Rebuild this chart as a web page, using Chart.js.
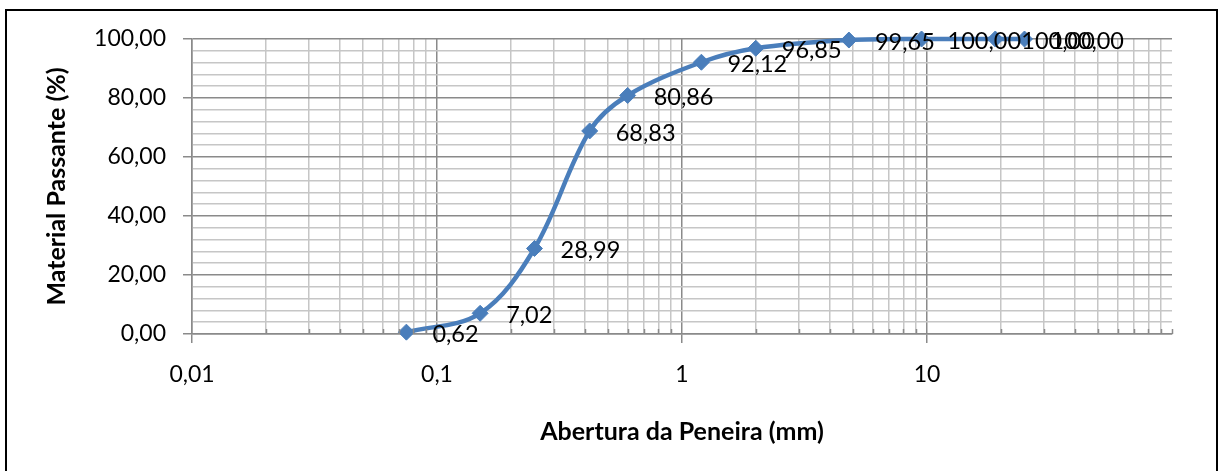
<!DOCTYPE html>
<html>
<head>
<meta charset="utf-8">
<script src="https://cdn.jsdelivr.net/npm/chart.js@4"></script>
<style>
  html, body { margin: 0; padding: 0; background: #fff; overflow: hidden; }
  #frame { position: absolute; left: 5px; top: 9px; width: 1213px; height: 520px; box-sizing: border-box; border: 2px solid #000; }
  #c { position: absolute; left: 0; top: 0; }
</style>
</head>
<body>
<div id="frame"></div>
<canvas id="c" width="1222" height="471"></canvas>
<script>
// ---- Data ----
const sieveOpenings = [0.075, 0.15, 0.25, 0.42, 0.6, 1.2, 2.0, 4.8, 9.5, 19, 25];
const percentPassing = [0.62, 7.02, 28.99, 68.83, 80.86, 92.12, 96.85, 99.65, 100.00, 100.00, 100.00];
const xDecades = [0.01, 0.1, 1, 10, 100];
const xDecadeLabels = ['0,01', '0,1', '1', '10', ''];
const yMajorTicks = [0, 20, 40, 60, 80, 100];
const yMinorStep = 4;

const fmt = v => v.toFixed(2).replace('.', ',');

// build tick lists from the named arrays
const xTickValues = [];
for (let i = 0; i < xDecades.length - 1; i++) {
  for (let k = 1; k <= 9; k++) xTickValues.push(+(xDecades[i] * k).toPrecision(6));
}
xTickValues.push(xDecades[xDecades.length - 1]);
const yTickValues = [];
for (let v = 0; v <= 100; v += yMinorStep) yTickValues.push(v);

const isDecade = v => xDecades.some(d => Math.abs(v - d) / d < 1e-6);
const MAJOR = '#8A8A8A', MINOR = '#C6C6C6', BLUE = '#4A7EBB';

const dataLabels = {
  id: 'dataLabels',
  afterDatasetsDraw(chart) {
    const ctx = chart.ctx;
    const meta = chart.getDatasetMeta(0);
    ctx.save();
    ctx.font = '23.5px Lato';
    ctx.fillStyle = '#000';
    ctx.textAlign = 'left';
    ctx.textBaseline = 'middle';
    meta.data.forEach((pt, i) => {
      ctx.fillText(fmt(percentPassing[i]), pt.x + 26, pt.y + 2);
    });
    ctx.restore();
  }
};

const innerTicks = {
  id: 'innerTicks',
  afterDraw(chart) {
    const xs = chart.scales.x;
    const ctx = chart.ctx;
    const bottom = chart.chartArea.bottom;
    ctx.save();
    ctx.strokeStyle = MAJOR;
    ctx.lineWidth = 1.5;
    xs.ticks.forEach(t => {
      if (isDecade(t.value) && t.value !== 100) return;
      const px = Math.round(xs.getPixelForValue(t.value)) + 0.5;
      ctx.beginPath();
      ctx.moveTo(px, bottom - 5);
      ctx.lineTo(px, bottom);
      ctx.stroke();
    });
    ctx.restore();
  }
};

new Chart(document.getElementById('c'), {
  type: 'line',
  data: {
    datasets: [{
      data: sieveOpenings.map((x, i) => ({ x, y: percentPassing[i] })),
      borderColor: BLUE,
      backgroundColor: BLUE,
      borderWidth: 4.5,
      tension: 0.35,
      pointStyle: 'rectRot',
      pointRadius: 8,
      pointBorderWidth: 1,
      pointBorderColor: BLUE,
      pointBackgroundColor: BLUE,
      clip: false
    }]
  },
  options: {
    responsive: false,
    animation: false,
    devicePixelRatio: 1,
    layout: { padding: { top: 39, right: 50, left: 0, bottom: 0 } },
    plugins: { legend: { display: false }, tooltip: { enabled: false } },
    scales: {
      x: {
        type: 'logarithmic',
        min: 0.01,
        max: 100,
        afterBuildTicks: s => { s.ticks = xTickValues.map(v => ({ value: v })); },
        afterFit: s => { s.height = 137; },
        border: { color: MAJOR, width: 1.5 },
        grid: {
          color: c => (c.tick && c.tick.value === 100) ? 'rgba(0,0,0,0)' : (c.tick && isDecade(c.tick.value) ? MAJOR : MINOR),
          tickColor: c => (c.tick && isDecade(c.tick.value) && c.tick.value !== 100) ? MAJOR : 'rgba(0,0,0,0)',
          tickLength: 9,
          lineWidth: 1.5
        },
        ticks: {
          autoSkip: false,
          maxRotation: 0,
          padding: 18,
          color: '#000',
          font: { family: 'Lato', size: 23 },
          callback: (v) => {
            const idx = xDecades.findIndex(d => Math.abs(v - d) / d < 1e-6);
            return idx >= 0 ? xDecadeLabels[idx] : '';
          }
        },
        title: {
          display: true,
          text: 'Abertura da Peneira (mm)',
          color: '#000',
          font: { family: 'Lato', size: 25, weight: 'bold' },
          padding: { top: 0, bottom: 24 }
        }
      },
      y: {
        min: 0,
        max: 100,
        afterBuildTicks: s => { s.ticks = yTickValues.map(v => ({ value: v })); },
        afterFit: s => { s.width = 192; },
        border: { color: MAJOR, width: 1.5 },
        grid: {
          color: c => (c.tick && yMajorTicks.includes(c.tick.value)) ? MAJOR : MINOR,
          tickColor: c => (c.tick && yMajorTicks.includes(c.tick.value)) ? MAJOR : 'rgba(0,0,0,0)',
          tickLength: 9,
          lineWidth: 1.5
        },
        ticks: {
          autoSkip: false,
          padding: 17,
          color: '#000',
          font: { family: 'Lato', size: 23 },
          callback: v => yMajorTicks.includes(v) ? fmt(v) : ''
        },
        title: {
          display: true,
          text: 'Material Passante (%)',
          color: '#000',
          font: { family: 'Lato', size: 25, weight: 'bold' },
          padding: { top: 42, bottom: 0 }
        }
      }
    }
  },
  plugins: [dataLabels, innerTicks]
});
</script>
</body>
</html>
